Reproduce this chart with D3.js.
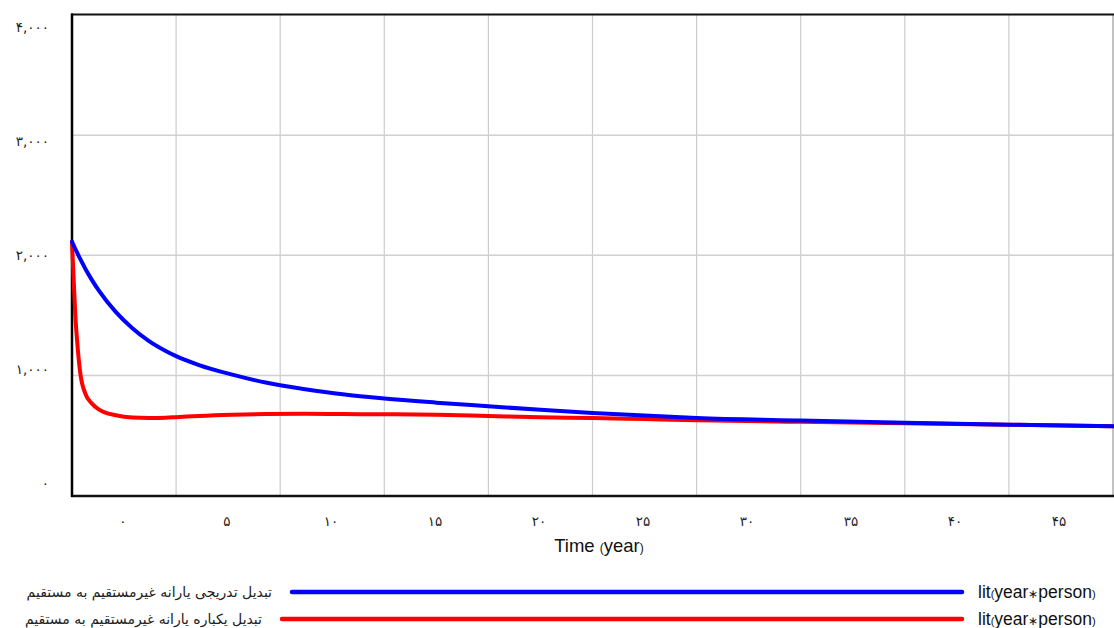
<!DOCTYPE html>
<html>
<head>
<meta charset="utf-8">
<script src="https://cdnjs.cloudflare.com/ajax/libs/d3/7.8.5/d3.min.js"></script>
<style>
  html, body { margin: 0; padding: 0; background: #fff; }
  svg { display: block; }
</style>
</head>
<body>
<svg id="chart" width="1114" height="628"></svg>
<script>
// ---- data ----
const time = [0, 0.08, 0.16, 0.24, 0.4, 0.64, 0.96, 1.3, 2.1, 2.9, 3.7, 4.5, 5, 6.1, 7.7, 9.3, 11.2, 13, 15, 17.5, 20, 22.5, 25, 27.5, 30, 35, 40, 45, 50];
const gradualValues = [2112, 2082, 2052, 2023, 1967, 1888, 1793, 1703, 1528, 1392, 1285, 1203, 1160, 1086, 1006, 940, 885, 842, 807, 773, 743, 713, 687, 665, 646, 624, 605, 590, 577];
const suddenValues = [2112, 1800, 1500, 1300, 1016, 848, 765, 715, 668, 649, 646, 648, 652, 662, 672, 678, 680, 678, 676, 672, 662, 652, 645, 636, 627, 613, 601, 589, 576];
const seriesNames = ["تبدیل تدریجی یارانه غیرمستقیم به مستقیم", "تبدیل یکباره یارانه غیرمستقیم به مستقیم"];
const seriesColors = ["#0000ff", "#ff0000"];
const xTickValues = [0, 5, 10, 15, 20, 25, 30, 35, 40, 45];
const yTickValues = [0, 1000, 2000, 3000, 4000];
const xLabel = "Time";
const xUnit = "year";

const fa = n => String(n).replace(/\d/g, d => "۰۱۲۳۴۵۶۷۸۹"[d]);
const faThousands = n => fa(d3.format(",")(n));

// ---- layout ----
const svg = d3.select("#chart");
const L = 72, R = 1113, T = 15, B = 495.5;
const x = d3.scaleLinear().domain([0, 50]).range([L, R]);
const y = d3.scaleLinear().domain([0, 4000]).range([B, T]);
// label scales (Vensim-style offset labels)
const xLab = d3.scaleLinear().domain([0, 45]).range([123, 1059]);
const yLab = d3.scaleLinear().domain([0, 4000]).range([483, 27]);

// grid
svg.append("g").selectAll("line.v").data(d3.range(5, 50, 5)).join("line")
  .attr("x1", d => x(d)).attr("x2", d => x(d)).attr("y1", T).attr("y2", B)
  .attr("stroke", "#cccccc").attr("stroke-width", 1.2);
svg.append("g").selectAll("line.h").data([1000, 2000, 3000]).join("line")
  .attr("x1", L).attr("x2", R).attr("y1", d => y(d)).attr("y2", d => y(d))
  .attr("stroke", "#d0d0d0").attr("stroke-width", 1.5);

// frame
svg.append("line").attr("x1", R).attr("x2", R).attr("y1", T).attr("y2", B).attr("stroke", "#999").attr("stroke-width", 1.2);
svg.append("line").attr("x1", L - 1).attr("x2", R + 1).attr("y1", T - 0.5).attr("y2", T - 0.5).attr("stroke", "#111").attr("stroke-width", 2);
svg.append("line").attr("x1", L - 1).attr("x2", R + 1).attr("y1", B + 0.5).attr("y2", B + 0.5).attr("stroke", "#111").attr("stroke-width", 2.5);
svg.append("line").attr("x1", L).attr("x2", L).attr("y1", T - 1.5).attr("y2", B + 1.5).attr("stroke", "#000").attr("stroke-width", 2.5);

// y tick labels
svg.append("g").selectAll("text").data(yTickValues).join("text")
  .attr("x", 49).attr("y", d => yLab(d)).attr("dy", "0.35em")
  .attr("text-anchor", "end")
  .style("font-family", "'DejaVu Sans', sans-serif").style("font-size", "13.5px").attr("fill", "#222")
  .text(d => faThousands(d));

// x tick labels
svg.append("g").selectAll("text").data(xTickValues).join("text")
  .attr("x", d => xLab(d)).attr("y", 521).attr("dy", "0.35em")
  .attr("text-anchor", "middle")
  .style("font-family", "'DejaVu Sans', sans-serif").style("font-size", "13.5px").attr("fill", "#222")
  .text(d => fa(d));

// x axis title
const xt = svg.append("text").attr("x", 599).attr("y", 552).attr("text-anchor", "middle")
  .style("font-family", "'Liberation Sans', Arial, sans-serif").style("font-size", "18.5px").attr("fill", "#111");
xt.append("tspan").text(xLabel + " ");
xt.append("tspan").style("font-size", "12px").text("(");
xt.append("tspan").text(xUnit);
xt.append("tspan").style("font-size", "12px").text(")");

// lines
const line = vals => d3.line().curve(d3.curveMonotoneX).x((d, i) => x(time[i])).y(d => y(d))(vals);
svg.append("path").attr("d", line(suddenValues)).attr("fill", "none")
  .attr("stroke", seriesColors[1]).attr("stroke-width", 4).attr("stroke-linejoin", "round").attr("stroke-linecap", "round");
svg.append("path").attr("d", line(gradualValues)).attr("fill", "none")
  .attr("stroke", seriesColors[0]).attr("stroke-width", 4).attr("stroke-linejoin", "round").attr("stroke-linecap", "round");

// legend
const legendY = [592, 619];
const legendLineStart = [292, 282];
seriesNames.forEach((name, i) => {
  svg.append("text").attr("x", legendLineStart[i] - 20).attr("y", legendY[i]).attr("dy", "0.35em")
    .attr("text-anchor", "end")
    .style("font-family", "'DejaVu Sans', sans-serif").style("font-size", "14px").attr("fill", "#222")
    .text(name);
  svg.append("line").attr("x1", legendLineStart[i]).attr("x2", 962).attr("y1", legendY[i]).attr("y2", legendY[i])
    .attr("stroke", seriesColors[i]).attr("stroke-width", 4.5).attr("stroke-linecap", "round");
  const u = svg.append("text").attr("x", 978).attr("y", legendY[i]).attr("dy", "0.35em")
    .style("font-family", "'Liberation Sans', Arial, sans-serif").style("font-size", "17.5px").attr("fill", "#111");
  u.append("tspan").text("lit");
  u.append("tspan").style("font-size", "11px").text("(");
  u.append("tspan").text("year");
  u.append("tspan").style("font-size", "12px").text("∗");
  u.append("tspan").text("person");
  u.append("tspan").style("font-size", "11px").text(")");
});
</script>
</body>
</html>
